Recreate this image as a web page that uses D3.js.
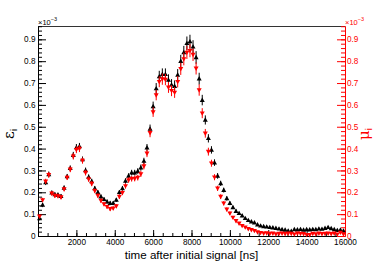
<!DOCTYPE html>
<html>
<head>
<meta charset="utf-8">
<script src="https://cdn.jsdelivr.net/npm/d3@7"></script>
<style>
  body { margin: 0; background: #fff; }
  svg { display: block; font-family: 'Liberation Sans', Arial, sans-serif; }
</style>
</head>
<body>
<div id="chart"></div>
<script>
// 100 bins of 160 ns, values in units of 1e-3
let binWidth = 160
let binCenters = d3.range(100).map(k => binWidth / 2 + binWidth * k)

let eps = [
  0.080, 0.142, 0.245, 0.282, 0.198, 0.190, 0.188, 0.182, 0.220, 0.272,
  0.310, 0.370, 0.405, 0.410, 0.350, 0.300, 0.270, 0.250, 0.218, 0.200,
  0.180, 0.168, 0.157, 0.150, 0.150, 0.165, 0.200, 0.218, 0.252, 0.275,
  0.290, 0.290, 0.297, 0.313, 0.343, 0.404, 0.490, 0.593, 0.675, 0.730,
  0.740, 0.740, 0.714, 0.692, 0.686, 0.737, 0.800, 0.840, 0.882, 0.890,
  0.866, 0.817, 0.720, 0.622, 0.531, 0.447, 0.394, 0.336, 0.275, 0.241,
  0.210, 0.172, 0.150, 0.131, 0.114, 0.104, 0.093, 0.081, 0.072, 0.066,
  0.061, 0.052, 0.047, 0.044, 0.042, 0.040, 0.038, 0.036, 0.033, 0.030,
  0.028, 0.024, 0.022, 0.030, 0.029, 0.031, 0.028, 0.030, 0.029, 0.031,
  0.030, 0.033, 0.032, 0.036, 0.040, 0.035, 0.030, 0.026, 0.028, 0.024
]
let epsErr = [
  0.008, 0.010, 0.012, 0.013, 0.010, 0.010, 0.010, 0.010, 0.011, 0.012,
  0.013, 0.015, 0.016, 0.016, 0.014, 0.013, 0.012, 0.012, 0.011, 0.010,
  0.010, 0.009, 0.009, 0.009, 0.009, 0.009, 0.010, 0.011, 0.012, 0.012,
  0.013, 0.013, 0.013, 0.014, 0.015, 0.017, 0.020, 0.022, 0.025, 0.026,
  0.027, 0.027, 0.026, 0.026, 0.026, 0.027, 0.029, 0.030, 0.031, 0.031,
  0.030, 0.029, 0.027, 0.024, 0.021, 0.019, 0.017, 0.015, 0.013, 0.012,
  0.011, 0.010, 0.009, 0.008, 0.008, 0.007, 0.007, 0.006, 0.006, 0.006,
  0.006, 0.005, 0.005, 0.005, 0.005, 0.005, 0.005, 0.005, 0.005, 0.005,
  0.005, 0.005, 0.005, 0.005, 0.005, 0.005, 0.005, 0.005, 0.005, 0.005,
  0.005, 0.005, 0.005, 0.005, 0.005, 0.005, 0.005, 0.005, 0.005, 0.005
]

let mu = [
  0.090, 0.165, 0.250, 0.280, 0.195, 0.185, 0.183, 0.178, 0.215, 0.268,
  0.305, 0.365, 0.395, 0.400, 0.345, 0.290, 0.260, 0.240, 0.207, 0.185,
  0.162, 0.146, 0.134, 0.124, 0.127, 0.137, 0.180, 0.198, 0.229, 0.256,
  0.262, 0.263, 0.267, 0.284, 0.320, 0.378, 0.472, 0.567, 0.645, 0.706,
  0.718, 0.716, 0.680, 0.665, 0.657, 0.706, 0.765, 0.810, 0.840, 0.848,
  0.830, 0.767, 0.668, 0.562, 0.470, 0.386, 0.333, 0.269, 0.218, 0.180,
  0.150, 0.122, 0.104, 0.085, 0.069, 0.058, 0.047, 0.040, 0.033, 0.028,
  0.024, 0.018, 0.015, 0.012, 0.013, 0.011, 0.012, 0.009, 0.011, 0.012,
  0.010, 0.012, 0.011, 0.008, 0.012, 0.011, 0.010, 0.006, 0.005, 0.011,
  0.009, 0.012, 0.010, 0.011, 0.012, 0.010, 0.012, 0.008, 0.016, 0.009
]
let muErr = [
  0.008, 0.010, 0.012, 0.013, 0.010, 0.010, 0.010, 0.010, 0.011, 0.012,
  0.013, 0.015, 0.016, 0.016, 0.014, 0.013, 0.012, 0.012, 0.011, 0.010,
  0.010, 0.009, 0.009, 0.009, 0.009, 0.009, 0.010, 0.011, 0.012, 0.012,
  0.013, 0.013, 0.013, 0.014, 0.015, 0.017, 0.020, 0.022, 0.024, 0.025,
  0.026, 0.026, 0.025, 0.025, 0.025, 0.026, 0.028, 0.029, 0.030, 0.030,
  0.029, 0.028, 0.026, 0.023, 0.020, 0.018, 0.016, 0.014, 0.012, 0.011,
  0.010, 0.009, 0.008, 0.007, 0.007, 0.006, 0.006, 0.005, 0.005, 0.005,
  0.005, 0.004, 0.004, 0.004, 0.004, 0.004, 0.004, 0.004, 0.004, 0.004,
  0.004, 0.004, 0.004, 0.004, 0.004, 0.004, 0.004, 0.004, 0.004, 0.004,
  0.004, 0.004, 0.004, 0.004, 0.004, 0.004, 0.004, 0.004, 0.004, 0.004
]

let xTicks = [2000, 4000, 6000, 8000, 10000, 12000, 14000, 16000]
let yTicks = [0, 0.1, 0.2, 0.3, 0.4, 0.5, 0.6, 0.7, 0.8, 0.9]

let width = 384
let height = 263
let margin = { top: 26, left: 38, right: 39, bottom: 27 }

let svg = d3
  .select('#chart')
  .append('svg')
  .attr('width', width)
  .attr('height', height)

let x = d3
  .scaleLinear()
  .domain([0, 16000])
  .range([margin.left, width - margin.right])

let y = d3
  .scaleLinear()
  .domain([0, 0.961])
  .range([height - margin.bottom, margin.top])

let red = '#ff0000'
let fmtY = d => (d === 0 ? '0' : d.toFixed(1))

// frame top line
svg
  .append('line')
  .attr('x1', x(0) + 0.5)
  .attr('x2', x(16000) + 0.5)
  .attr('y1', y(0.961) + 0.5)
  .attr('y2', y(0.961) + 0.5)
  .attr('stroke', '#333')

// minor ticks
let yMinor = d3.range(0, 0.961, 0.02)
let xMinor = d3.range(0, 16001, 500)

svg
  .append('g')
  .attr('transform', `translate(${x(0)},0)`)
  .call(d3.axisLeft(y).tickValues(yMinor).tickSize(-4).tickFormat(''))
  .call(g => g.select('.domain').remove())

svg
  .append('g')
  .attr('transform', `translate(${x(16000)},0)`)
  .call(d3.axisRight(y).tickValues(yMinor).tickSize(-4).tickFormat(''))
  .call(g => g.select('.domain').remove())
  .selectAll('line')
  .attr('stroke', red)

svg
  .append('g')
  .attr('transform', `translate(0,${y(0)})`)
  .call(d3.axisBottom(x).tickValues(xMinor).tickSize(-3).tickFormat(''))
  .call(g => g.select('.domain').remove())

// main axes
let xAxis = svg
  .append('g')
  .attr('transform', `translate(0,${y(0)})`)
  .call(
    d3.axisBottom(x).tickValues(xTicks).tickSize(-6).tickSizeOuter(0)
      .tickPadding(3).tickFormat(d3.format('d'))
  )

let yAxis = svg
  .append('g')
  .attr('transform', `translate(${x(0)},0)`)
  .call(
    d3.axisLeft(y).tickValues(yTicks).tickSize(-8).tickSizeOuter(0)
      .tickPadding(2.5).tickFormat(fmtY)
  )

let y2Axis = svg
  .append('g')
  .attr('transform', `translate(${x(16000)},0)`)
  .call(
    d3.axisRight(y).tickValues(yTicks).tickSize(-8).tickSizeOuter(0)
      .tickPadding(2).tickFormat(fmtY)
  )

xAxis.selectAll('text').attr('font-size', 8.2).attr('font-family', null).attr('fill', '#000')
yAxis.selectAll('text').attr('font-size', 8.2).attr('font-family', null).attr('fill', '#000')
xAxis.selectAll('line, path').attr('stroke', '#000')
yAxis.selectAll('line, path').attr('stroke', '#000')
y2Axis.selectAll('line, path').attr('stroke', red)
y2Axis.selectAll('text').attr('font-size', 8.2).attr('font-family', null).attr('fill', red)

// exponent labels
function expLabel(xPos, color) {
  let t = svg
    .append('text')
    .attr('x', xPos)
    .attr('y', 24.5)
    .attr('font-size', 7.5)
    .attr('fill', color)
  t.append('tspan').text('×10')
  t.append('tspan').attr('font-size', 5.5).attr('dy', -3.5).text('−3')
}
expLabel(x(0), '#000')
expLabel(x(16000), red)

// axis titles
svg
  .append('text')
  .attr('x', (x(0) + x(16000)) / 2)
  .attr('y', 258.5)
  .attr('text-anchor', 'middle')
  .attr('font-size', 11.6)
  .text('time after initial signal [ns]')

function yTitle(xPos, sym, color) {
  let t = svg
    .append('text')
    .attr('transform', `translate(${xPos},134) rotate(-90)`)
    .attr('text-anchor', 'middle')
    .attr('fill', color)
    .attr('font-size', 15)
  t.append('tspan').attr('font-family', 'DejaVu Serif, serif').text(sym)
  t.append('tspan').attr('font-size', 9).attr('dy', 3).text('i')
}
yTitle(14, 'ε', '#000')
yTitle(369, 'μ', red)

// data series
let triUp = 'M0,-2.6L2.5,1.8L-2.5,1.8Z'
let triDown = 'M0,2.6L2.5,-1.8L-2.5,-1.8Z'

function drawSeries(vals, errs, color, marker) {
  let g = svg.append('g')
  g.selectAll('.err')
    .data(vals)
    .enter()
    .append('line')
    .attr('x1', (d, i) => x(binCenters[i]))
    .attr('x2', (d, i) => x(binCenters[i]))
    .attr('y1', (d, i) => y(d - errs[i]))
    .attr('y2', (d, i) => y(d + errs[i]))
    .attr('stroke', color)
    .attr('stroke-width', 1)
  g.selectAll('.pt')
    .data(vals)
    .enter()
    .append('path')
    .attr('d', marker)
    .attr('transform', (d, i) => `translate(${x(binCenters[i])},${y(d)})`)
    .attr('fill', color)
}

drawSeries(eps, epsErr, '#000', triUp)
drawSeries(mu, muErr, red, triDown)
</script>
</body>
</html>
